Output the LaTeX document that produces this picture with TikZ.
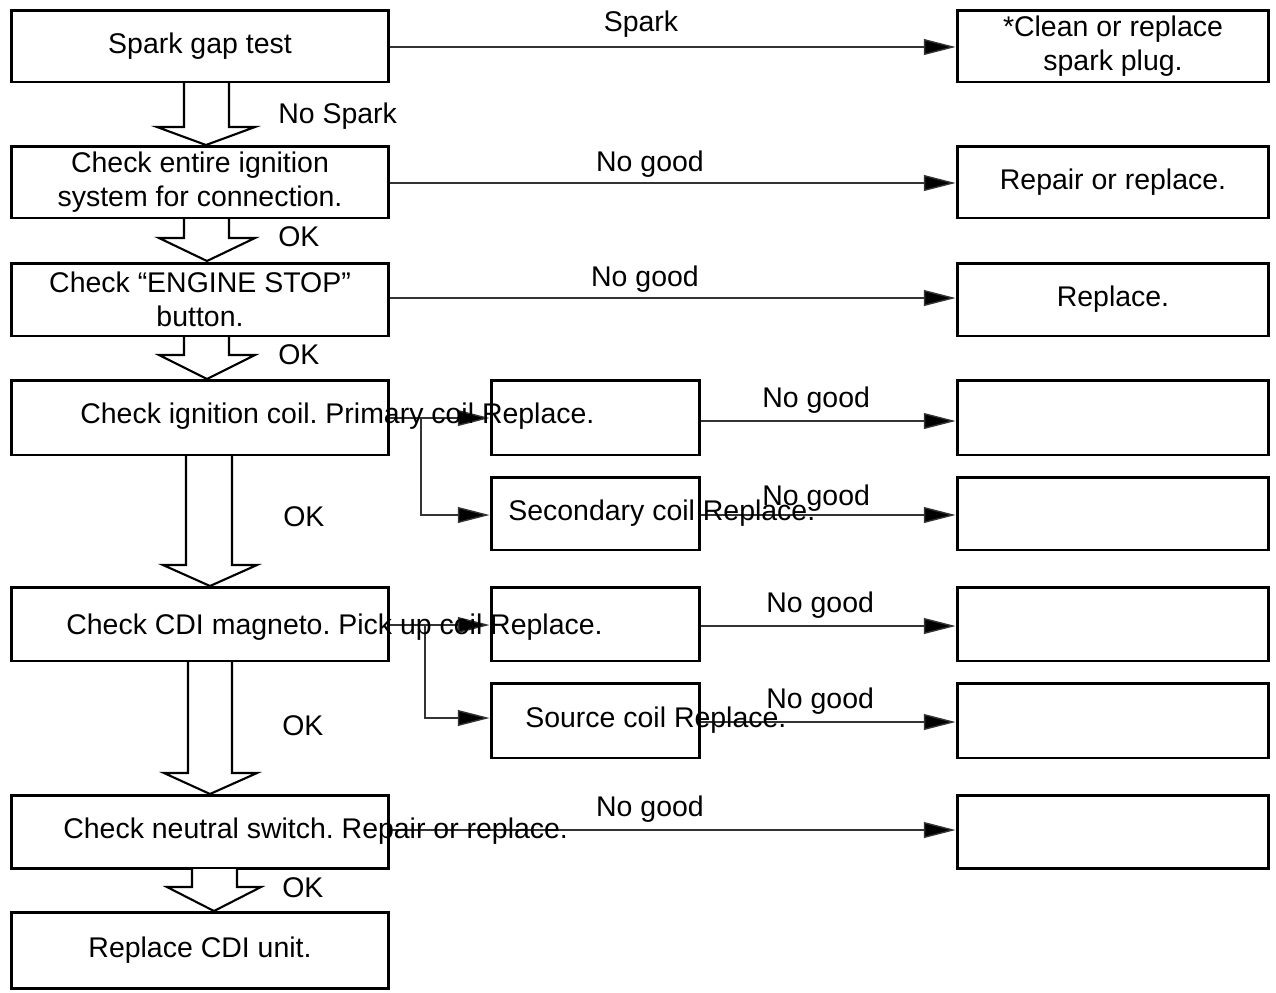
\documentclass[tikz,border=0pt]{standalone}
\usepackage{fontspec}
\setmainfont{Liberation Sans}
\usetikzlibrary{arrows.meta}
\newcommand\dfont{\fontsize{16.2}{19.4}\selectfont\frenchspacing}
\begin{document}
\begin{tikzpicture}[x=0.02cm,y=-0.02cm,
  box/.style={draw, line width=1.7pt, inner sep=0pt, align=center, font=\dfont},
  lbox/.style={box, minimum width=7.56cm},
  rbox/.style={box, minimum width=6.24cm},
  mbox/.style={box, minimum width=4.18cm},
  lab/.style={inner sep=0pt, font=\dfont},
  conn/.style={line width=0.8pt, draw=black!80, -{Triangle[length=18pt,width=9pt,fill=black]}},
  hollow/.style={draw, line width=1.2pt, fill=white, line join=miter}]
\useasboundingbox (0,0) rectangle (1276,992);
% left column
\node[lbox, minimum height=1.44cm] (b1) at (200,46) {Spark gap test};
\node[lbox, minimum height=1.44cm] (b2) at (200,182) {Check entire ignition\\system for connection.};
\node[lbox, minimum height=1.46cm] (b3) at (200,299.5) {Check “ENGINE STOP”\\button.};
\node[lbox, minimum height=1.5cm] (b4) at (200,417.5) {};
\node[lbox, minimum height=1.48cm] (b5) at (200,624) {};
\node[lbox, minimum height=1.46cm] (b6) at (200,831.5) {};
\node[lbox, minimum height=1.52cm] (b7) at (200,950) {Replace CDI unit.};
% middle column
\node[mbox, minimum height=1.5cm] (m1) at (595.5,417.5) {};
\node[mbox, minimum height=1.46cm] (m2) at (595.5,513.5) {};
\node[mbox, minimum height=1.48cm] (m3) at (595.5,624) {};
\node[mbox, minimum height=1.5cm] (m4) at (595.5,720.5) {};
% right column
\node[rbox, minimum height=1.44cm] (r1) at (1113,46) {*Clean or replace\\spark plug.};
\node[rbox, minimum height=1.44cm] (r2) at (1113,182) {Repair or replace.};
\node[rbox, minimum height=1.46cm] (r3) at (1113,299.5) {Replace.};
\node[rbox, minimum height=1.5cm] (r4) at (1113,417.5) {};
\node[rbox, minimum height=1.46cm] (r5) at (1113,513.5) {};
\node[rbox, minimum height=1.48cm] (r6) at (1113,624) {};
\node[rbox, minimum height=1.5cm] (r7) at (1113,720.5) {};
\node[rbox, minimum height=1.46cm] (r8) at (1113,831.5) {};
% hollow arrows
\draw[hollow] (184,83) -- (184,127) -- (157,127) -- (206,145) -- (255,127) -- (229,127) -- (229,83);
\draw[hollow] (184,219) -- (184,238) -- (159,238) -- (207,261) -- (255,238) -- (229,238) -- (229,219);
\draw[hollow] (184,337) -- (184,355) -- (159,355) -- (207,379) -- (255,355) -- (229,355) -- (229,337);
\draw[hollow] (186,456) -- (186,565) -- (163,565) -- (210,586) -- (257,565) -- (232,565) -- (232,456);
\draw[hollow] (188,662) -- (188,773) -- (164,773) -- (210,794) -- (257,773) -- (232,773) -- (232,662);
\draw[hollow] (192,869) -- (192,887) -- (167,887) -- (214,911) -- (261,887) -- (237,887) -- (237,869);
% connectors
\coordinate (j1) at (421,418);
\coordinate (j2) at (425,625);
\draw[conn] (b1.east |- 0,47) -- (r1.west |- 0,47);
\draw[conn] (b2.east |- 0,183) -- (r2.west |- 0,183);
\draw[conn] (b3.east |- 0,298) -- (r3.west |- 0,298);
\draw[conn] (b4.east |- 0,418) -- (m1.west |- 0,418);
\draw[conn] (j1) |- (m2.west |- 0,515);
\draw[conn] (m1.east |- 0,421) -- (r4.west |- 0,421);
\draw[conn] (m2.east |- 0,515) -- (r5.west |- 0,515);
\draw[conn] (b5.east |- 0,625) -- (m3.west |- 0,625);
\draw[conn] (j2) |- (m4.west |- 0,718);
\draw[conn] (m3.east |- 0,626) -- (r6.west |- 0,626);
\draw[conn] (m4.east |- 0,722) -- (r7.west |- 0,722);
\draw[conn] (b6.east |- 0,830) -- (r8.west |- 0,830);
% overlapping box texts
\node[lab, anchor=base west] (t4) at (80,423) {Check ignition coil. Primary coil Replace.};
\node[lab, anchor=base west] (t4b) at (508,520) {Secondary coil Replace.};
\node[lab, anchor=base west] (t5) at (66,634) {Check CDI magneto. Pick up coil Replace.};
\node[lab, anchor=base west] (t5b) at (525,727) {Source coil Replace.};
\node[lab, anchor=base west] (t6) at (63,838) {Check neutral switch. Repair or replace.};
% labels
\node[lab, anchor=base] (l1) at (641,31) {Spark};
\node[lab, anchor=base west] (l2) at (278,123) {No Spark};
\node[lab, anchor=base] (l3) at (650,171) {No good};
\node[lab, anchor=base west] (l4) at (278,246) {OK};
\node[lab, anchor=base] (l5) at (645,286) {No good};
\node[lab, anchor=base west] (l6) at (278,364) {OK};
\node[lab, anchor=base west] (l7) at (762,407) {No good};
\node[lab, anchor=base west] (l8) at (762,505) {No good};
\node[lab, anchor=base west] (l9) at (283,526) {OK};
\node[lab, anchor=base west] (l10) at (766,612) {No good};
\node[lab, anchor=base west] (l11) at (766,708) {No good};
\node[lab, anchor=base west] (l12) at (282,735) {OK};
\node[lab, anchor=base] (l13) at (650,816) {No good};
\node[lab, anchor=base west] (l14) at (282,897) {OK};
\end{tikzpicture}
\end{document}
